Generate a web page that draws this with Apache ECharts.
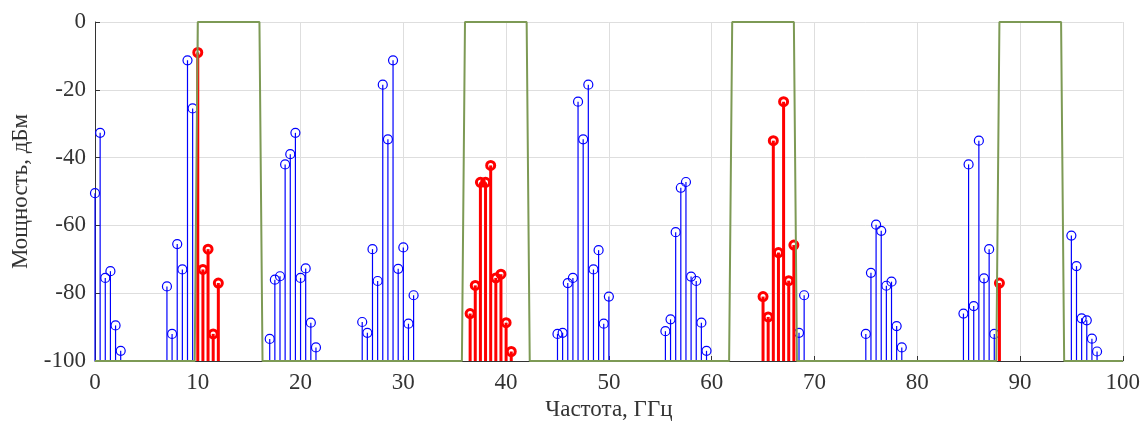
<!DOCTYPE html>
<html>
<head>
<meta charset="utf-8">
<script src="https://cdn.jsdelivr.net/npm/echarts@6/dist/echarts.min.js"></script>
<style>
  html, body { margin: 0; padding: 0; background: #fff; }
  #main { width: 1143px; height: 430px; }
</style>
</head>
<body>
<div id="main"></div>
<script>
// spectrum lines outside the filter passbands (blue)
const blueFreq = [0, 0.5, 1, 1.5, 2, 2.5,
  7, 7.5, 8, 8.5, 9, 9.5,
  17, 17.5, 18, 18.5, 19, 19.5, 20, 20.5, 21, 21.5,
  26, 26.5, 27, 27.5, 28, 28.5, 29, 29.5, 30, 30.5, 31,
  45, 45.5, 46, 46.5, 47, 47.5, 48, 48.5, 49, 49.5, 50,
  55.5, 56, 56.5, 57, 57.5, 58, 58.5, 59, 59.5,
  68.5, 69,
  75, 75.5, 76, 76.5, 77, 77.5, 78, 78.5,
  84.5, 85, 85.5, 86, 86.5, 87, 87.5,
  95, 95.5, 96, 96.5, 97, 97.5];
const bluePow = [-50.5, -32.7, -75.5, -73.5, -89.5, -97,
  -78, -92, -65.5, -73, -11.3, -25.5,
  -93.5, -76, -75, -42, -39, -32.7, -75.5, -72.7, -88.7, -96,
  -88.5, -91.7, -67, -76.4, -18.5, -34.6, -11.3, -72.8, -66.5, -89, -80.6,
  -92, -91.7, -77, -75.5, -23.5, -34.6, -18.5, -73, -67.3, -89, -81,
  -91.2, -87.7, -62, -48.9, -47.2, -75.1, -76.4, -88.7, -97,
  -91.7, -80.6,
  -92, -74, -59.8, -61.6, -77.8, -76.6, -89.7, -96,
  -86, -42, -83.8, -35, -75.6, -67, -92,
  -63, -72, -87.4, -88, -93.4, -97.2];

// lines inside the passbands (red)
const redFreq = [10, 10.5, 11, 11.5, 12,
  36.5, 37, 37.5, 38, 38.5, 39, 39.5, 40, 40.5,
  65, 65.5, 66, 66.5, 67, 67.5, 68,
  88];
const redPow = [-9, -73, -67, -92, -77,
  -86, -77.7, -47.3, -47.3, -42.3, -75.5, -74.4, -88.7, -97.2,
  -81, -87, -35, -68, -23.5, -76.3, -65.8,
  -77];

// filter response (green)
const filterFreq = [0, 9.7, 10, 16, 16.3, 35.7, 36, 42, 42.3, 61.7, 62, 68, 68.3, 87.7, 88, 94, 94.3, 100];
const filterPow = [-100, -100, 0, 0, -100, -100, 0, 0, -100, -100, 0, 0, -100, -100, 0, 0, -100, -100];

const xTicks = [0, 10, 20, 30, 40, 50, 60, 70, 80, 90, 100];
const yTicks = [-100, -80, -60, -40, -20, 0];

const FONT = '"Liberation Serif", "Times New Roman", serif';
const BASE = -100;

function stemRenderer(color, lw, r) {
  return function (params, api) {
    const p0 = api.coord([api.value(0), BASE]);
    const p1 = api.coord([api.value(0), api.value(1)]);
    return {
      type: 'group',
      children: [
        { type: 'line', shape: { x1: p0[0], y1: p0[1], x2: p1[0], y2: p1[1] },
          style: { stroke: color, lineWidth: lw } },
        { type: 'circle', shape: { cx: p1[0], cy: p1[1], r: r },
          style: { fill: 'transparent', stroke: color, lineWidth: lw } }
      ]
    };
  };
}

const chart = echarts.init(document.getElementById('main'));
chart.setOption({
  animation: false,
  grid: { left: 95, right: 19, top: 22, bottom: 69 },
  xAxis: {
    type: 'value', min: 0, max: 100, interval: 10,
    name: 'Частота, ГГц', nameLocation: 'middle', nameGap: 37,
    nameTextStyle: { fontFamily: FONT, fontSize: 23, color: '#333' },
    axisLine: { onZero: false, lineStyle: { color: '#333', width: 1 } },
    axisTick: { inside: true, length: 5, lineStyle: { color: '#333' } },
    axisLabel: { fontFamily: FONT, fontSize: 23, color: '#333', margin: 10,
      formatter: v => xTicks.includes(v) ? String(v) : '' },
    splitLine: { show: true, lineStyle: { color: '#dedede', width: 1 } }
  },
  yAxis: {
    type: 'value', min: -100, max: 0, interval: 20,
    name: 'Мощность, дБм', nameLocation: 'middle', nameGap: 58,
    nameTextStyle: { fontFamily: FONT, fontSize: 23, color: '#333' },
    axisLine: { show: true, onZero: false, lineStyle: { color: '#333', width: 1 } },
    axisTick: { show: true, inside: true, length: 5, lineStyle: { color: '#333' } },
    axisLabel: { fontFamily: FONT, fontSize: 23, color: '#333', margin: 9,
      formatter: v => yTicks.includes(v) ? String(v) : '' },
    splitLine: { show: true, lineStyle: { color: '#dedede', width: 1 } }
  },
  series: [
    {
      name: 'blue', type: 'custom', z: 3,
      renderItem: stemRenderer('#0000ff', 1.2, 4.5),
      data: blueFreq.map((f, i) => [f, bluePow[i]]),
      clip: false
    },
    {
      name: 'red', type: 'custom', z: 4,
      renderItem: stemRenderer('#ff0000', 3, 4),
      data: redFreq.map((f, i) => [f, redPow[i]]),
      clip: false
    },
    {
      name: 'filter', type: 'line', z: 5,
      data: filterFreq.map((f, i) => [f, filterPow[i]]),
      showSymbol: false, symbol: 'none', clip: false,
      lineStyle: { color: '#7d9a55', width: 2 }
    }
  ]
});
</script>
</body>
</html>
